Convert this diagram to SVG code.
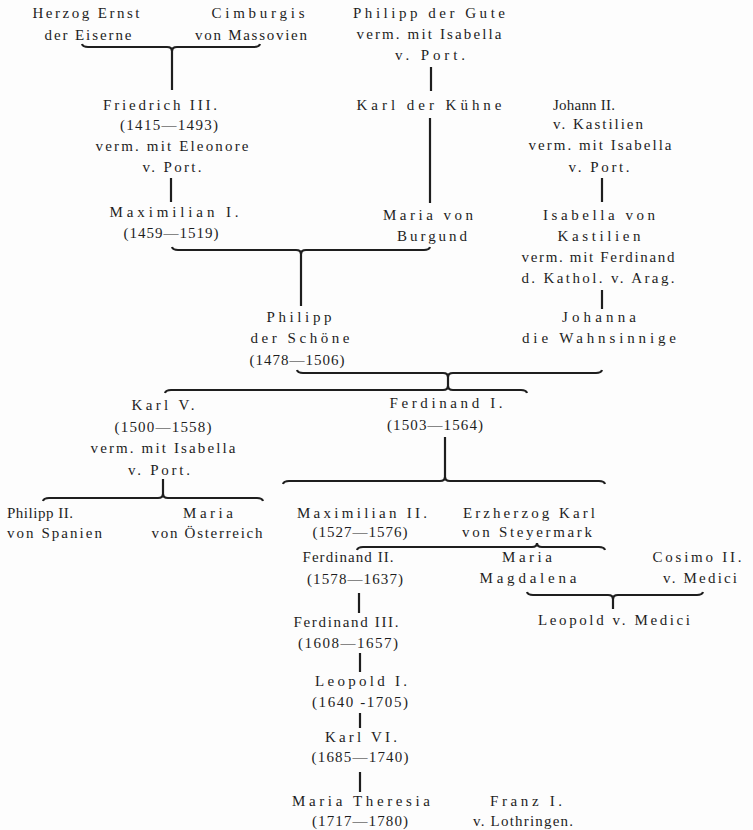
<svg xmlns="http://www.w3.org/2000/svg" width="753" height="830" viewBox="0 0 753 830">
<style>
text{font-family:"Liberation Serif","DejaVu Serif",serif;font-size:15px;fill:#1e1e1e;text-anchor:middle}
text.l{text-anchor:start}
.c path,.c line{stroke:#1e1e1e;stroke-width:2.2;fill:none;stroke-linecap:butt}
</style>
<rect width="753" height="830" fill="#fdfdfd"/>
<g class="c" id="connectors">
<path d="M82,44 Q83,47 88,47 L167,47 Q172,47 172,51 Q172,47 177,47 L254,47 Q259,47 260,44"/>
<line x1="172" y1="49" x2="172" y2="90"/>
<line x1="431" y1="67" x2="431" y2="91"/>
<line x1="430" y1="118" x2="430" y2="203"/>
<line x1="171" y1="178" x2="171" y2="202"/>
<line x1="602" y1="178" x2="602" y2="202"/>
<path d="M172,247 Q173,250 178,250 L296,250 Q301,250 301,254 Q301,250 306,250 L424,250 Q429,250 430,247"/>
<line x1="301" y1="252" x2="301" y2="306"/>
<line x1="602" y1="290" x2="602" y2="309"/>
<path d="M297,370 Q298,373 303,373 L443,373 Q448,373 448,377 Q448,373 453,373 L596,373 Q601,373 602,370"/>
<line x1="448" y1="375" x2="448" y2="388"/>
<path d="M165,393 Q166,390 171,390 L443,390 Q448,390 448,386 Q448,390 453,390 L521,390 Q526,390 527,393"/>
<line x1="445" y1="437" x2="445" y2="480"/>
<path d="M283,484 Q284,481 289,481 L440,481 Q445,481 445,477 Q445,481 450,481 L599,481 Q604,481 605,484"/>
<line x1="163" y1="479" x2="163" y2="497"/>
<path d="M43,501 Q44,498 49,498 L158,498 Q163,498 163,494 Q163,498 168,498 L257,498 Q262,498 263,501"/>
<path d="M357,550 Q358,547 363,547 L532,547 Q537,547 537,543 Q537,547 542,547 L599,547 Q604,547 605,550"/>
<path d="M527,592 Q528,595 533,595 L608,595 Q613,595 613,599 Q613,595 618,595 L697,595 Q702,595 703,592"/>
<line x1="613" y1="597" x2="613" y2="609"/>
<line x1="359" y1="593" x2="359" y2="613"/>
<line x1="360" y1="653" x2="360" y2="672"/>
<line x1="360" y1="713" x2="360" y2="728"/>
<line x1="360" y1="772" x2="360" y2="792"/>
</g>
<g id="herzog-ernst"><text x="86" y="18" textLength="107" lengthAdjust="spacing">Herzog Ernst</text><text x="88" y="40" textLength="87" lengthAdjust="spacing">der Eiserne</text></g>
<g id="cimburgis"><text x="258" y="18" textLength="93" lengthAdjust="spacing">Cimburgis</text><text x="251" y="40" textLength="112" lengthAdjust="spacing">von Massovien</text></g>
<g id="philipp-der-gute"><text x="429" y="18" textLength="152" lengthAdjust="spacing">Philipp der Gute</text><text x="429" y="39" textLength="145" lengthAdjust="spacing">verm. mit Isabella</text><text x="430" y="60" textLength="70" lengthAdjust="spacing">v. Port.</text></g>
<g id="friedrich-iii"><text x="160" y="110" textLength="114" lengthAdjust="spacing">Friedrich III.</text><text x="169" y="130" textLength="98" lengthAdjust="spacing">(1415—1493)</text><text x="172" y="151" textLength="153" lengthAdjust="spacing">verm. mit Eleonore</text><text x="172" y="172" textLength="59" lengthAdjust="spacing">v. Port.</text></g>
<g id="karl-der-kuehne"><text x="429" y="110" textLength="145" lengthAdjust="spacing">Karl der Kühne</text></g>
<g id="johann-ii"><text class="l" x="553" y="110" textLength="62" lengthAdjust="spacing">Johann II.</text><text x="598" y="129" textLength="90" lengthAdjust="spacing">v. Kastilien</text><text x="600" y="150" textLength="143" lengthAdjust="spacing">verm. mit Isabella</text><text x="599" y="172" textLength="61" lengthAdjust="spacing">v. Port.</text></g>
<g id="maximilian-i"><text x="174" y="217" textLength="129" lengthAdjust="spacing">Maximilian I.</text><text x="171" y="238" textLength="95" lengthAdjust="spacing">(1459—1519)</text></g>
<g id="maria-von-burgund"><text x="428" y="220" textLength="90" lengthAdjust="spacing">Maria von</text><text x="432" y="241" textLength="70" lengthAdjust="spacing">Burgund</text></g>
<g id="isabella-von-kastilien"><text x="599" y="220" textLength="112" lengthAdjust="spacing">Isabella von</text><text x="599" y="241" textLength="83" lengthAdjust="spacing">Kastilien</text><text x="598" y="262" textLength="153" lengthAdjust="spacing">verm. mit Ferdinand</text><text x="598" y="283" textLength="153" lengthAdjust="spacing">d. Kathol. v. Arag.</text></g>
<g id="philipp-der-schoene"><text x="299" y="322" textLength="65" lengthAdjust="spacing">Philipp</text><text x="300" y="343" textLength="99" lengthAdjust="spacing">der Schöne</text><text x="297" y="365" textLength="95" lengthAdjust="spacing">(1478—1506)</text></g>
<g id="johanna"><text x="599" y="322" textLength="74" lengthAdjust="spacing">Johanna</text><text x="599" y="343" textLength="154" lengthAdjust="spacing">die Wahnsinnige</text></g>
<g id="karl-v"><text x="163" y="410" textLength="63" lengthAdjust="spacing">Karl V.</text><text x="163" y="432" textLength="97" lengthAdjust="spacing">(1500—1558)</text><text x="163" y="453" textLength="145" lengthAdjust="spacing">verm. mit Isabella</text><text x="159" y="475" textLength="62" lengthAdjust="spacing">v. Port.</text></g>
<g id="ferdinand-i"><text x="446" y="408" textLength="113" lengthAdjust="spacing">Ferdinand I.</text><text x="435" y="430" textLength="96" lengthAdjust="spacing">(1503—1564)</text></g>
<g id="philipp-ii"><text class="l" x="7" y="518" textLength="66" lengthAdjust="spacing">Philipp II.</text><text class="l" x="7" y="538" textLength="95" lengthAdjust="spacing">von Spanien</text></g>
<g id="maria-von-oesterreich"><text x="208" y="518" textLength="50" lengthAdjust="spacing">Maria</text><text x="207" y="538" textLength="111" lengthAdjust="spacing">von Österreich</text></g>
<g id="maximilian-ii"><text x="362" y="518" textLength="130" lengthAdjust="spacing">Maximilian II.</text><text x="360" y="537" textLength="95" lengthAdjust="spacing">(1527—1576)</text></g>
<g id="erzherzog-karl"><text x="529" y="518" textLength="132" lengthAdjust="spacing">Erzherzog Karl</text><text x="527" y="537" textLength="130" lengthAdjust="spacing">von Steyermark</text></g>
<g id="ferdinand-ii"><text x="348" y="562" textLength="91" lengthAdjust="spacing">Ferdinand II.</text><text x="355" y="584" textLength="96" lengthAdjust="spacing">(1578—1637)</text></g>
<g id="maria-magdalena"><text x="527" y="562" textLength="50" lengthAdjust="spacing">Maria</text><text x="528" y="583" textLength="97" lengthAdjust="spacing">Magdalena</text></g>
<g id="cosimo-ii"><text x="697" y="562" textLength="89" lengthAdjust="spacing">Cosimo II.</text><text x="700" y="583" textLength="74" lengthAdjust="spacing">v. Medici</text></g>
<g id="leopold-v-medici"><text x="614" y="625" textLength="152" lengthAdjust="spacing">Leopold v. Medici</text></g>
<g id="ferdinand-iii"><text x="346" y="627" textLength="105" lengthAdjust="spacing">Ferdinand III.</text><text x="348" y="648" textLength="100" lengthAdjust="spacing">(1608—1657)</text></g>
<g id="leopold-i"><text x="361" y="686" textLength="92" lengthAdjust="spacing">Leopold I.</text><text x="360" y="707" textLength="96" lengthAdjust="spacing">(1640 -1705)</text></g>
<g id="karl-vi"><text x="361" y="742" textLength="72" lengthAdjust="spacing">Karl VI.</text><text x="360" y="762" textLength="97" lengthAdjust="spacing">(1685—1740)</text></g>
<g id="maria-theresia"><text x="361" y="806" textLength="138" lengthAdjust="spacing">Maria Theresia</text><text x="360" y="826" textLength="96" lengthAdjust="spacing">(1717—1780)</text></g>
<g id="franz-i"><text x="526" y="806" textLength="72" lengthAdjust="spacing">Franz I.</text><text x="523" y="826" textLength="100" lengthAdjust="spacing">v. Lothringen.</text></g>
</svg>
